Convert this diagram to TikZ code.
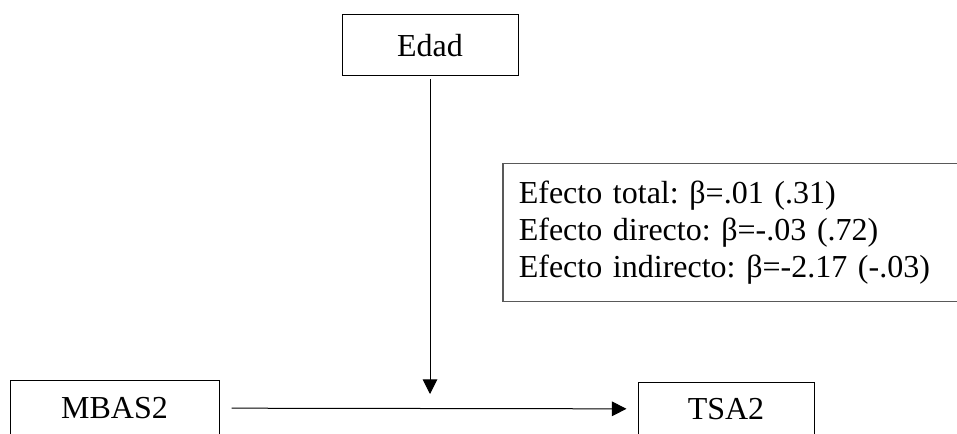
\documentclass[tikz,border=0pt]{standalone}
\usepackage{fontspec}
\setmainfont{Liberation Serif}
\frenchspacing
\usetikzlibrary{positioning,arrows.meta}

\begin{document}
\begin{tikzpicture}[x=0.75pt,y=-0.75pt,
    var/.style={draw,line width=0.75pt,minimum width=132pt,inner sep=0pt,font=\fontsize{24}{27.6}\selectfont},
    >={Triangle[length=11pt,width=11pt]}]
    \useasboundingbox (0,0) rectangle (957,434);
    \clip (0,0) rectangle (957,434);
    \node[var,minimum height=45.75pt] (edad) at (430,45.5) {Edad};
    \node[var,minimum width=156.75pt,minimum height=40.5pt] (mbas) at (114.5,408) {MBAS2};
    \node[var,minimum height=39pt] (tsa) at (726,409) {TSA2};
    \node[draw=black!65,line width=1.2pt,text width=350pt,align=left,inner xsep=12pt,minimum height=103.5pt,
          font=\fontsize{24}{27.6}\selectfont,anchor=west] (efectos) at (502,232.5)
          {Efecto total: β=.01 (.31)\\Efecto directo: β=-.03 (.72)\\Efecto indirecto: β=-2.17 (-.03)};
    \coordinate (cruce) at (430,394);
    \path[->,line width=0.75pt] (edad) edge [shorten <=2.25pt] (cruce)
          (mbas) edge [shorten <=9pt,shorten >=8.25pt] (tsa);
\end{tikzpicture}
\end{document}
